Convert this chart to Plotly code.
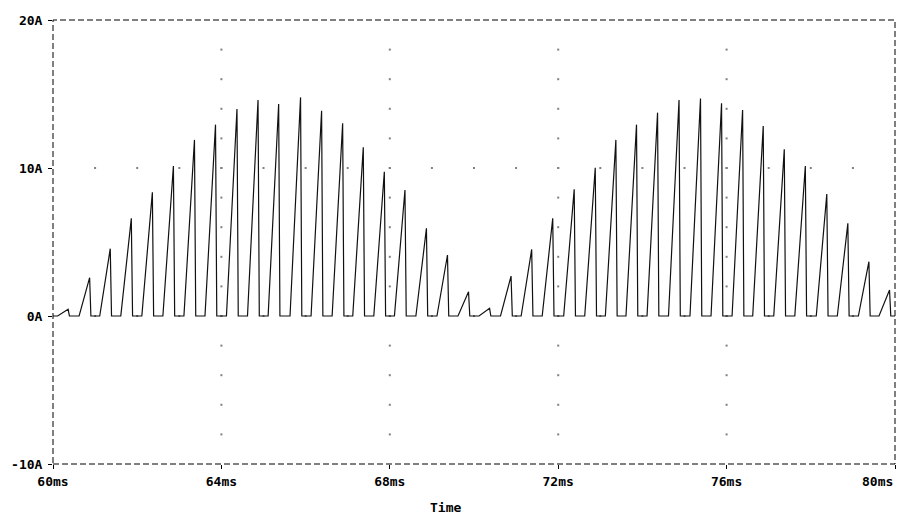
import plotly.graph_objects as go

# Peak instants (ms) and peak currents (A) of each chopped current pulse
PEAK_TIME_MS = [
    60.36, 60.87, 61.36, 61.86, 62.36, 62.86, 63.36, 63.86, 64.37, 64.87,
    65.36, 65.88, 66.38, 66.88, 67.37, 67.87, 68.36, 68.87, 69.37, 69.87,
    70.37, 70.88, 71.37, 71.87, 72.38, 72.88, 73.37, 73.86, 74.36, 74.87,
    75.38, 75.88, 76.38, 76.87, 77.37, 77.87, 78.38, 78.88, 79.38, 79.87,
]
PEAK_CURRENT_A = [
    0.45, 2.59, 4.55, 6.60, 8.36, 10.14, 11.90, 12.93, 13.99, 14.60,
    14.32, 14.77, 13.87, 13.02, 11.40, 9.75, 8.51, 5.92, 4.12, 1.64,
    0.52, 2.70, 4.50, 6.60, 8.56, 10.02, 11.90, 12.93, 13.74, 14.60,
    14.70, 14.37, 13.92, 12.84, 11.26, 10.14, 8.24, 6.26, 3.67, 1.76,
]
RISE_MS = 0.25   # ramp-up duration of each pulse
FALL_MS = 0.03   # turn-off duration of each pulse
T_START, T_END = 60.0, 80.0

X_TICKS = [60, 64, 68, 72, 76, 80]
X_TICK_TEXT = ["60ms", "64ms", "68ms", "72ms", "76ms", "80ms"]
Y_TICKS = [-10, 0, 10, 20]
Y_TICK_TEXT = ["-10A", "0A", "10A", "20A"]

# Assemble the piecewise-linear current waveform
t = [T_START]
i = [0.0]
for tp, ip in zip(PEAK_TIME_MS, PEAK_CURRENT_A):
    t += [max(T_START, tp - RISE_MS), tp, min(T_END, tp + FALL_MS)]
    i += [0.0, ip, 0.0]
t.append(T_END)
i.append(0.0)

# Dotted grid: dots every 2 A on the vertical grid lines,
# and every 1 ms on the horizontal grid lines
gx, gy = [], []
for xv in X_TICKS[1:-1]:
    for yv in range(-8, 20, 2):
        gx.append(xv)
        gy.append(yv)
for yv in [0, 10]:
    for xv in range(61, 80):
        gx.append(xv)
        gy.append(yv)

font = dict(family="DejaVu Sans Mono", size=13, color="black", weight="bold")

fig = go.Figure()
fig.add_trace(go.Scatter(
    x=gx, y=gy, mode="markers",
    marker=dict(symbol="square", size=2, color="#808080", line=dict(width=0)),
    hoverinfo="skip", showlegend=False,
))
fig.add_trace(go.Scatter(
    x=t, y=i, mode="lines",
    line=dict(color="#111111", width=1.2),
    showlegend=False,
))

# The last time label sits flush with the right end of the axis
x_text = X_TICK_TEXT[:-1] + [""]

fig.update_layout(
    width=898, height=527,
    margin=dict(l=53, r=3, t=20, b=63),
    paper_bgcolor="white", plot_bgcolor="white",
    font=font,
    xaxis=dict(
        range=[T_START, T_END], tickvals=X_TICKS, ticktext=x_text,
        showgrid=False, zeroline=False, showline=False,
        ticks="outside", ticklen=4, tickcolor="black", tickwidth=1,
        ticklabelstandoff=1, tickfont=font,
    ),
    yaxis=dict(
        range=[-10, 20], tickvals=Y_TICKS, ticktext=Y_TICK_TEXT,
        showgrid=False, zeroline=False, showline=False,
        ticks="outside", ticklen=4, tickcolor="black", tickwidth=1,
        ticklabelstandoff=3, tickfont=font,
    ),
    shapes=[dict(
        type="rect", xref="paper", yref="paper", x0=0, y0=0, x1=1, y1=1,
        line=dict(color="black", width=1, dash="6px,3px"),
    )],
    annotations=[
        dict(
            text=X_TICK_TEXT[-1], xref="paper", yref="paper", x=1.0, y=-0.0405,
            xanchor="right", yanchor="middle", showarrow=False, font=font,
        ),
        dict(
            text="Time", xref="paper", yref="paper", x=0.4666, y=-0.099,
            xanchor="center", yanchor="middle", showarrow=False, font=font,
        ),
    ],
)

fig.write_html("out.html")
